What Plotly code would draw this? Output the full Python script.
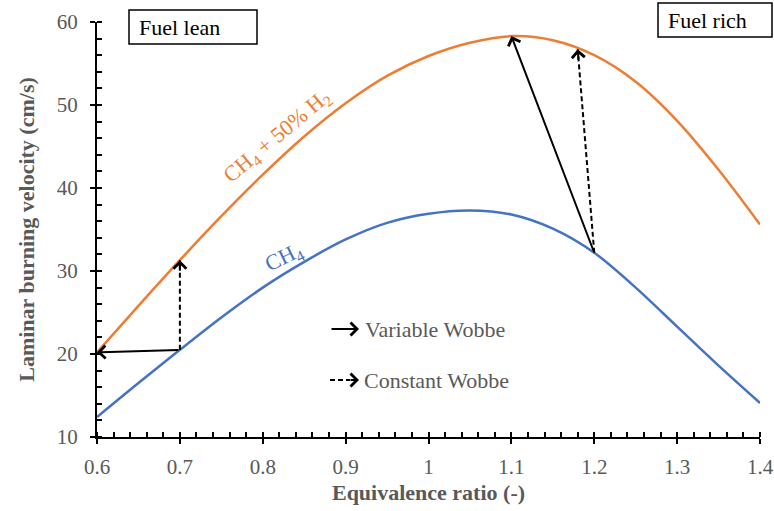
import numpy as np
import plotly.graph_objects as go

# Equivalence ratio and laminar burning velocity (cm/s)
phi = [0.60, 0.65, 0.70, 0.75, 0.80, 0.85, 0.90, 0.95, 1.00, 1.05,
       1.10, 1.15, 1.20, 1.25, 1.30, 1.35, 1.40]
sl_ch4 = [12.4, 16.5, 20.5, 24.4, 28.0, 31.1, 33.8, 35.8, 36.9, 37.3,
          36.8, 35.1, 32.2, 28.0, 23.3, 18.6, 14.1]
sl_blend = [20.2, 25.8, 31.3, 36.6, 41.6, 46.2, 50.2, 53.5, 55.9, 57.5,
            58.3, 57.8, 56.0, 52.8, 48.1, 42.2, 35.6]

# Arrow pairs: (phi on CH4 curve, phi on CH4 + 50% H2 curve)
variable_wobbe = [(0.70, 0.60), (1.20, 1.10)]
constant_wobbe = [(0.70, 0.70), (1.20, 1.18)]

x_ticks = [0.6, 0.7, 0.8, 0.9, 1.0, 1.1, 1.2, 1.3, 1.4]
x_labels = ["0.6", "0.7", "0.8", "0.9", "1", "1.1", "1.2", "1.3", "1.4"]
y_ticks = [10, 20, 30, 40, 50, 60]

BLUE = "#4472C4"
ORANGE = "#ED7D31"
GREY = "#595959"
FONT = "Liberation Serif"
DASH = "5px,3px"

W, H = 774, 511
L, R, T, B = 97, 760, 22, 437
X_RANGE = [0.6, 1.4]
Y_RANGE = [10, 60]
SX = (R - L) / (X_RANGE[1] - X_RANGE[0])   # px per unit phi
SY = (B - T) / (Y_RANGE[1] - Y_RANGE[0])   # px per cm/s


def px(xp):
    return (xp - L) / (R - L)


def py(yp):
    return (B - yp) / (B - T)


def on_ch4(x):
    return float(np.interp(x, phi, sl_ch4))


def on_blend(x):
    return float(np.interp(x, phi, sl_blend))


ARROW = dict(showarrow=True, arrowhead=4, arrowsize=1.25, arrowwidth=2, arrowcolor="black", text="")

fig = go.Figure()
fig.add_trace(go.Scatter(x=phi, y=sl_ch4, mode="lines",
                         line=dict(color=BLUE, width=2.5, shape="spline", smoothing=0.9),
                         hoverinfo="skip", showlegend=False))
fig.add_trace(go.Scatter(x=phi, y=sl_blend, mode="lines",
                         line=dict(color=ORANGE, width=2.5, shape="spline", smoothing=0.9),
                         hoverinfo="skip", showlegend=False))
# invisible trace so the tick-overlay axes get drawn
fig.add_trace(go.Scatter(x=[0.6], y=[10], xaxis="x2", yaxis="y2", mode="markers",
                         marker=dict(opacity=0), hoverinfo="skip", showlegend=False))

annotations = []
shapes = []

# Solid arrows: variable Wobbe index
for x0, x1 in variable_wobbe:
    annotations.append(dict(x=x1, y=on_blend(x1), ax=x0, ay=on_ch4(x0), xref="x", yref="y",
                            axref="x", ayref="y", **ARROW))

# Dashed arrows: constant Wobbe index (dashed shaft + short arrowhead stub)
for x0, x1 in constant_wobbe:
    ys, ye = on_ch4(x0), on_blend(x1)
    fig.add_trace(go.Scatter(x=[x0, x1], y=[ys, ye], mode="lines",
                             line=dict(color="black", width=2, dash=DASH),
                             hoverinfo="skip", showlegend=False))
    dxp = (x0 - x1) * SX
    dyp = (ye - ys) * SY
    n = np.hypot(dxp, dyp)
    annotations.append(dict(x=x1, y=ye, ax=12 * dxp / n, ay=12 * dyp / n,
                            xref="x", yref="y", **ARROW))

# Key for the arrow styles
annotations.append(dict(x=px(359), y=py(329), xref="paper", yref="paper", ax=-29, ay=0, **ARROW))
shapes.append(dict(type="line", xref="paper", yref="paper", x0=px(330), x1=px(350),
                   y0=py(380), y1=py(380), line=dict(color="black", width=2, dash=DASH)))
annotations.append(dict(x=px(359), y=py(380), xref="paper", yref="paper", ax=-10, ay=0, **ARROW))
annotations.append(dict(x=px(363), y=py(329), xref="paper", yref="paper", xanchor="left",
                        yanchor="middle", text="Variable Wobbe", showarrow=False,
                        font=dict(family=FONT, size=22, color=GREY)))
annotations.append(dict(x=px(362), y=py(380), xref="paper", yref="paper", xanchor="left",
                        yanchor="middle", text="Constant Wobbe", showarrow=False,
                        font=dict(family=FONT, size=22, color=GREY)))

# Curve labels
annotations.append(dict(x=px(277), y=py(137), xref="paper", yref="paper", showarrow=False,
                        xanchor="center", yanchor="middle",
                        text="CH<sub>4</sub> + 50% H<sub>2</sub>", textangle=-40,
                        font=dict(family=FONT, size=22, color=ORANGE)))
annotations.append(dict(x=px(284), y=py(258), xref="paper", yref="paper", showarrow=False,
                        xanchor="center", yanchor="middle",
                        text="CH<sub>4</sub>", textangle=-26,
                        font=dict(family=FONT, size=22, color=BLUE)))

# Region boxes
shapes.append(dict(type="rect", xref="paper", yref="paper", x0=px(129), x1=px(257),
                   y0=py(44), y1=py(10), line=dict(color="black", width=1.5)))
annotations.append(dict(x=px(137), y=py(27), xref="paper", yref="paper", xanchor="left",
                        yanchor="middle", text="Fuel lean", showarrow=False,
                        font=dict(family=FONT, size=22, color="black")))
shapes.append(dict(type="rect", xref="paper", yref="paper", x0=px(658), x1=px(772),
                   y0=py(37), y1=py(3), line=dict(color="black", width=1.5)))
annotations.append(dict(x=px(666), y=py(20), xref="paper", yref="paper", xanchor="left",
                        yanchor="middle", text="Fuel rich", showarrow=False,
                        font=dict(family=FONT, size=22, color="black")))

tickfont = dict(family=FONT, size=21, color=GREY)
titlefont = dict(family=FONT, size=22, color=GREY, weight="bold")

fig.update_layout(
    width=W, height=H,
    margin=dict(l=L, r=W - R, t=T, b=H - B),
    paper_bgcolor="white", plot_bgcolor="white",
    xaxis=dict(range=X_RANGE, tickmode="array", tickvals=x_ticks, ticktext=x_labels,
               ticks="outside", ticklen=5, tickwidth=2, tickcolor="black", automargin=False,
               showline=True, linecolor="black", linewidth=2, showgrid=False, zeroline=False,
               tickfont=tickfont, ticklabelstandoff=5,
               minor=dict(tickmode="linear", tick0=0.6, dtick=0.02, ticks="inside",
                          ticklen=5, tickwidth=1.5, tickcolor="black", showgrid=False),
               title=dict(text="Equivalence ratio (-)", font=titlefont, standoff=6)),
    yaxis=dict(range=Y_RANGE, tickmode="array", tickvals=y_ticks,
               ticks="outside", ticklen=5, tickwidth=2, tickcolor="black", automargin=False,
               showline=True, linecolor="black", linewidth=2, showgrid=False, zeroline=False,
               tickfont=tickfont, ticklabelstandoff=8,
               minor=dict(tickmode="linear", tick0=10, dtick=2, ticks="inside",
                          ticklen=5, tickwidth=1.5, tickcolor="black", showgrid=False),
               title=dict(text="Laminar burning velocity (cm/s)", font=titlefont, standoff=16)),
    xaxis2=dict(overlaying="x", range=X_RANGE, tickmode="array", tickvals=x_ticks,
                ticks="inside", ticklen=5, tickwidth=2, tickcolor="black", automargin=False,
                showticklabels=False, showline=False, showgrid=False, zeroline=False,
                side="bottom"),
    yaxis2=dict(overlaying="y", range=Y_RANGE, tickmode="array", tickvals=y_ticks,
                ticks="inside", ticklen=5, tickwidth=2, tickcolor="black", automargin=False,
                showticklabels=False, showline=False, showgrid=False, zeroline=False,
                side="left"),
    annotations=annotations,
    shapes=shapes,
)

fig.write_html("out.html")
